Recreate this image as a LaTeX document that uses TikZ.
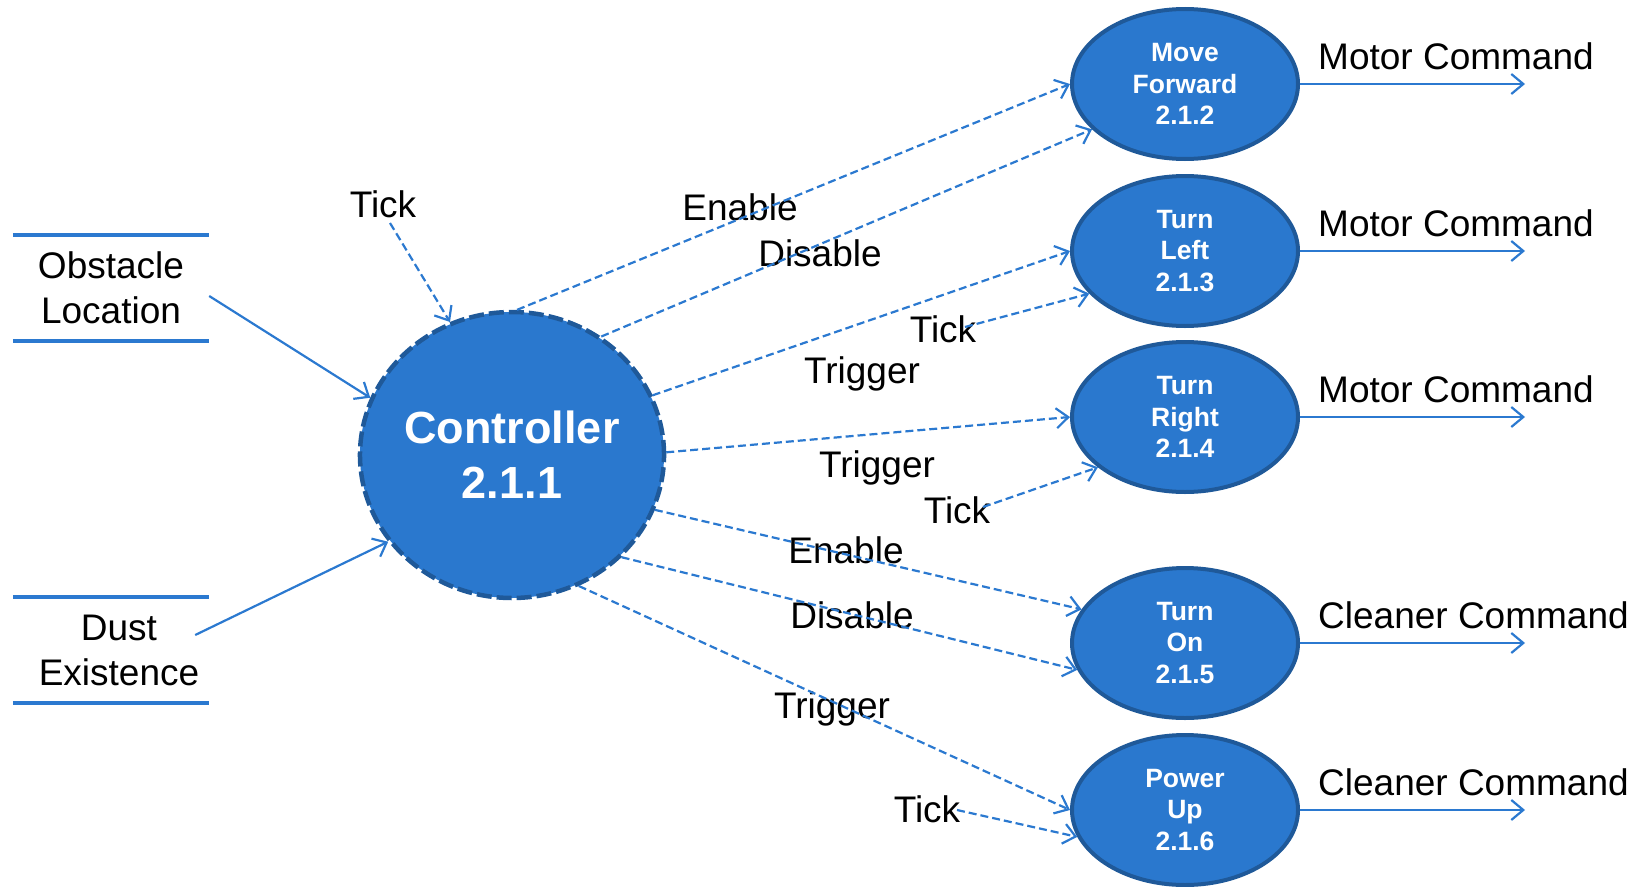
\documentclass[tikz,border=0pt]{standalone}
\usepackage{fontspec}
\setmainfont{Liberation Sans}
\usetikzlibrary{arrows.meta,shapes.geometric}

\definecolor{procfill}{RGB}{42,120,206}
\definecolor{procedge}{RGB}{31,89,153}
\definecolor{flowblue}{RGB}{43,121,208}

\newcommand\lblfont{\fontsize{37}{45}\selectfont}
\newcommand\procfont{\fontsize{26.5}{31.5}\selectfont\bfseries}
\newcommand\ctrlfont{\fontsize{45}{55}\selectfont\bfseries}

\begin{document}
\begin{tikzpicture}[x=1pt,y=-1pt,
  proc/.style={ellipse, draw=procedge, line width=4pt, fill=procfill,
    text=white, minimum width=226pt, minimum height=150pt, inner sep=0pt,
    align=center, font=\procfont},
  ctrlnode/.style={ellipse, draw=procedge, line width=4.5pt,
    dash pattern=on 15pt off 5pt, fill=procfill, text=white,
    minimum width=302pt, minimum height=286pt, inner sep=0pt,
    align=center, font=\ctrlfont},
  lbl/.style={font=\lblfont, inner sep=0pt, anchor=base},
  outlbl/.style={font=\lblfont, inner sep=0pt, anchor=base west},
  store/.style={minimum width=196pt, minimum height=106pt, inner sep=0pt,
    align=center, font=\lblfont},
  storeline/.style={draw=flowblue, line width=4.5pt},
  flow/.style={draw=flowblue, line width=2.2pt,
    -{Straight Barb[length=12pt,width=20pt]}},
  ctl/.style={flow, dash pattern=on 8pt off 4pt},
]
\useasboundingbox (0,0) rectangle (1651,886);

% data stores
\node[store] (obst) at (111,288) {Obstacle\\Location};
\node[store] (dust) at (119,650) {Dust\\Existence};
\draw[storeline] (obst.north west) -- (obst.north east);
\draw[storeline] (obst.south west) -- (obst.south east);
\draw[storeline] ([xshift=-8pt]dust.north west) -- ([xshift=-8pt]dust.north east);
\draw[storeline] ([xshift=-8pt]dust.south west) -- ([xshift=-8pt]dust.south east);

% processes
\node[ctrlnode] (ctrl) at (512,455) {Controller\\2.1.1};
\node[proc] (mf) at (1185,84)  {Move\\Forward\\2.1.2};
\node[proc] (tl) at (1185,251) {Turn\\Left\\2.1.3};
\node[proc] (tr) at (1185,417) {Turn\\Right\\2.1.4};
\node[proc] (on) at (1185,643) {Turn\\On\\2.1.5};
\node[proc] (pu) at (1185,810) {Power\\Up\\2.1.6};

% inputs to the controller
\draw[flow] ([yshift=-8pt]obst.east) -- (ctrl.158);
\draw[flow] ([xshift=-22pt,yshift=15pt]dust.east) -- (ctrl.215);

\node[lbl] (tk0) at (383,217) {Tick};
\draw[ctl] ([xshift=7pt,yshift=-6pt]tk0.base) -- (ctrl.115);

% control flows
\node[lbl] (en1) at (740,220) {Enable};
\node[lbl] (ds1) at (820,266) {Disable};
\node[lbl] (tg1) at (862,383) {Trigger};
\node[lbl] (tk1) at (943,342) {Tick};
\node[lbl] (tg2) at (877,477) {Trigger};
\node[lbl] (tk2) at (957,523) {Tick};
\node[lbl] (en2) at (846,563) {Enable};
\node[lbl] (ds2) at (852,628) {Disable};
\node[lbl] (tg3) at (832,718) {Trigger};
\node[lbl] (tk3) at (927,822) {Tick};

\draw[ctl] (ctrl.88)  -- (mf.180);
\draw[ctl] (ctrl.53)  -- (mf.206);
\draw[ctl] (ctrl.23)  -- (tl.180);
\draw[ctl] ([xshift=22pt,yshift=15pt]tk1.base) -- (tl.204);
\draw[ctl] (ctrl.1)   -- (tr.180);
\draw[ctl] ([xshift=26pt,yshift=16pt]tk2.base) -- (tr.210);
\draw[ctl] (ctrl.-21) -- (on.162);
\draw[ctl] (ctrl.-43) -- (on.194);
\draw[ctl] (ctrl.-63) -- (pu.180);
\draw[ctl] ([xshift=30pt,yshift=12pt]tk3.base) -- (pu.194);

% outputs
\coordinate (mfo) at (1525,84);
\coordinate (tlo) at (1525,251);
\coordinate (tro) at (1525,417);
\coordinate (ono) at (1525,643);
\coordinate (puo) at (1525,810);
\draw[flow] (mf.east) -- (mfo);
\draw[flow] (tl.east) -- (tlo);
\draw[flow] (tr.east) -- (tro);
\draw[flow] (on.east) -- (ono);
\draw[flow] (pu.east) -- (puo);

\node[outlbl] (mfl) at (1318,69)  {Motor Command};
\node[outlbl] (tll) at (1318,236) {Motor Command};
\node[outlbl] (trl) at (1318,402) {Motor Command};
\node[outlbl] (onl) at (1318,628) {Cleaner Command};
\node[outlbl] (pul) at (1318,795) {Cleaner Command};
\end{tikzpicture}
\end{document}
